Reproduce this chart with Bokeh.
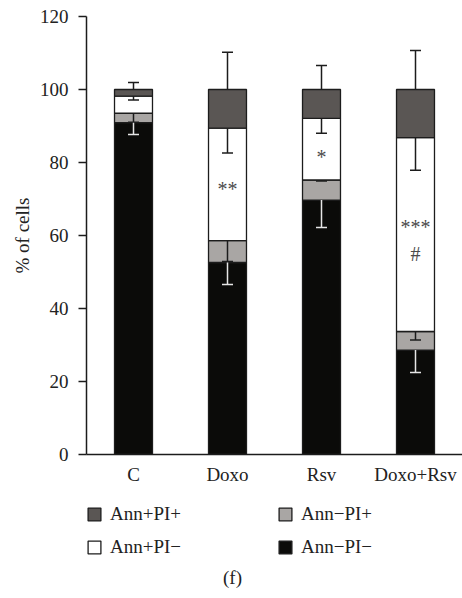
from bokeh.plotting import figure
from bokeh.layouts import column
from bokeh.models import (ColumnDataSource, Whisker, TeeHead, Legend, LegendItem,
                          Label, FixedTicker, Range1d)
from bokeh.core.properties import value
from bokeh.embed import file_html
from bokeh.resources import INLINE

# ---- data ----
cats = ["C", "Doxo", "Rsv", "Doxo+Rsv"]
ann_neg_pi_neg = [90.9, 52.6, 69.7, 28.6]   # black, bottom
ann_neg_pi_pos = [2.6, 6.0, 5.5, 5.1]       # light grey
ann_pos_pi_neg = [4.7, 30.8, 16.9, 53.1]    # white
ann_pos_pi_pos = [1.8, 10.6, 7.9, 13.2]     # dark grey, top

err_nn = [3.2, 6.0, 7.5, 6.1]
err_np = [2.5, 5.7, 0.3, 2.3]
err_pn = [1.1, 6.8, 4.1, 8.9]
err_pp = [1.9, 10.2, 6.6, 10.7]

y_ticks = [0, 20, 40, 60, 80, 100, 120]

sig_cats = ["Doxo", "Rsv", "Doxo+Rsv", "Doxo+Rsv"]
sig_text = ["**", "*", "***", "#"]
sig_y = [72.8, 81.4, 62.2, 54.9]

series_labels = ["Ann\u2212PI\u2212", "Ann\u2212PI+", "Ann+PI\u2212", "Ann+PI+"]

FONT = "Liberation Serif"
C_BLACK = "#0b0b09"
C_LGREY = "#a9a6a4"
C_DGREY = "#5a5654"
C_LINE = "#1c1c1c"
C_TEXT = "#222222"
FILLS = [C_BLACK, C_LGREY, "white", C_DGREY]

keys = ["nn", "np", "pn", "pp"]
data = dict(cats=cats, nn=ann_neg_pi_neg, np=ann_neg_pi_pos, pn=ann_pos_pi_neg, pp=ann_pos_pi_pos)
src = ColumnDataSource(data)

p = figure(x_range=cats, y_range=Range1d(0, 120), width=462, height=490,
           output_backend="svg", toolbar_location=None,
           min_border_left=86, min_border_top=16, min_border_right=0, min_border_bottom=36)
p.outline_line_color = None
p.grid.visible = False
p.background_fill_color = "white"
p.border_fill_color = "white"

rs = p.vbar_stack(keys, x="cats", width=0.404, source=src,
                  fill_color=FILLS, line_color=C_LINE, line_width=1.3)

# cumulative tops
top_nn = list(ann_neg_pi_neg)
top_np = [a + b for a, b in zip(top_nn, ann_neg_pi_pos)]
top_pn = [a + b for a, b in zip(top_np, ann_pos_pi_neg)]
top_pp = [a + b for a, b in zip(top_pn, ann_pos_pi_pos)]

up_src = ColumnDataSource(dict(base=cats, upper=[t + e for t, e in zip(top_pp, err_pp)], lower=top_pp))
down_src = ColumnDataSource(dict(base=cats * 2, upper=top_pn + top_np,
                                 lower=[t - e for t, e in zip(top_pn, err_pn)] +
                                       [t - e for t, e in zip(top_np, err_np)]))
white_src = ColumnDataSource(dict(base=cats, upper=top_nn, lower=[t - e for t, e in zip(top_nn, err_nn)]))

w1 = Whisker(base="base", upper="upper", lower="lower", source=up_src, dimension="height",
             upper_head=TeeHead(size=11, line_color=C_LINE, line_width=1.5), lower_head=None,
             line_color=C_LINE, line_width=1.5, level="annotation")
w2 = Whisker(base="base", upper="upper", lower="lower", source=down_src, dimension="height",
             lower_head=TeeHead(size=11, line_color=C_LINE, line_width=1.5), upper_head=None,
             line_color=C_LINE, line_width=1.5, level="annotation")
w3 = Whisker(base="base", upper="upper", lower="lower", source=white_src, dimension="height",
             lower_head=TeeHead(size=11, line_color="#e6e6e6", line_width=1.5), upper_head=None,
             line_color="#e6e6e6", line_width=1.5, level="annotation")
for w in (w1, w2, w3):
    p.add_layout(w)

p.text(x=sig_cats, y=sig_y, text=sig_text, text_align="center", text_baseline="middle",
       text_font=value(FONT), text_font_size="20px", text_color="#4a4a4a")

# axes
p.yaxis.ticker = FixedTicker(ticks=y_ticks)
p.yaxis.minor_tick_line_color = None
p.yaxis.major_tick_in = 0
p.yaxis.major_tick_out = 8
p.yaxis.major_label_standoff = 10
p.yaxis.axis_label = "% of cells"
p.yaxis.axis_label_standoff = 4
p.yaxis.axis_label_text_font = FONT
p.yaxis.axis_label_text_font_style = "normal"
p.yaxis.axis_label_text_font_size = "19px"
p.yaxis.axis_label_text_color = C_TEXT
p.yaxis.major_tick_line_color = C_LINE
p.yaxis.major_tick_line_width = 1.3

p.xaxis.major_tick_line_color = None
p.xaxis.minor_tick_line_color = None
p.xaxis.major_tick_out = 0
p.xaxis.major_tick_in = 0
p.xaxis.major_label_standoff = 9

for ax in (p.xaxis, p.yaxis):
    ax.major_label_text_font = FONT
    ax.major_label_text_font_size = "19px"
    ax.major_label_text_color = C_TEXT
    ax.axis_line_color = C_LINE
    ax.axis_line_width = 1.5

# ---- legend strip below the chart (frame aligned with the chart's frame) ----
p2 = figure(x_range=cats, y_range=Range1d(0, 120), width=462, height=108,
            output_backend="svg", toolbar_location=None,
            x_axis_location=None, y_axis_location=None,
            min_border_left=0, min_border_right=0, min_border_top=0, min_border_bottom=0)
p2.outline_line_color = None
p2.grid.visible = False
p2.background_fill_color = "white"
p2.border_fill_color = "white"
rs2 = p2.vbar_stack(keys, x="cats", width=0.404, source=src,
                    fill_color=FILLS, line_color=C_LINE, line_width=1.3)
for r in rs2:
    r.visible = False   # only used as legend swatches

legend = Legend(items=[LegendItem(label=series_labels[3], renderers=[rs2[3]]),
                       LegendItem(label=series_labels[2], renderers=[rs2[2]]),
                       LegendItem(label=series_labels[1], renderers=[rs2[1]]),
                       LegendItem(label=series_labels[0], renderers=[rs2[0]])],
                orientation="vertical", ncols=2, location=(0, 35),
                glyph_width=16, glyph_height=16, label_standoff=8, label_width=167,
                label_height=33, spacing=0, padding=0, margin=0,
                label_text_font=FONT, label_text_font_size="19px", label_text_color=C_TEXT,
                label_text_baseline="middle", inactive_fill_alpha=0,
                border_line_color=None, background_fill_alpha=0)
p2.add_layout(legend)

p2.add_layout(Label(x=146, y=21, x_units="screen", y_units="screen", text="(f)",
                    text_align="center", text_baseline="middle", text_font=FONT,
                    text_font_size="19px", text_color=C_TEXT))

layout = column(p, p2, spacing=0)
open("out.html", "w").write(file_html(layout, INLINE))
